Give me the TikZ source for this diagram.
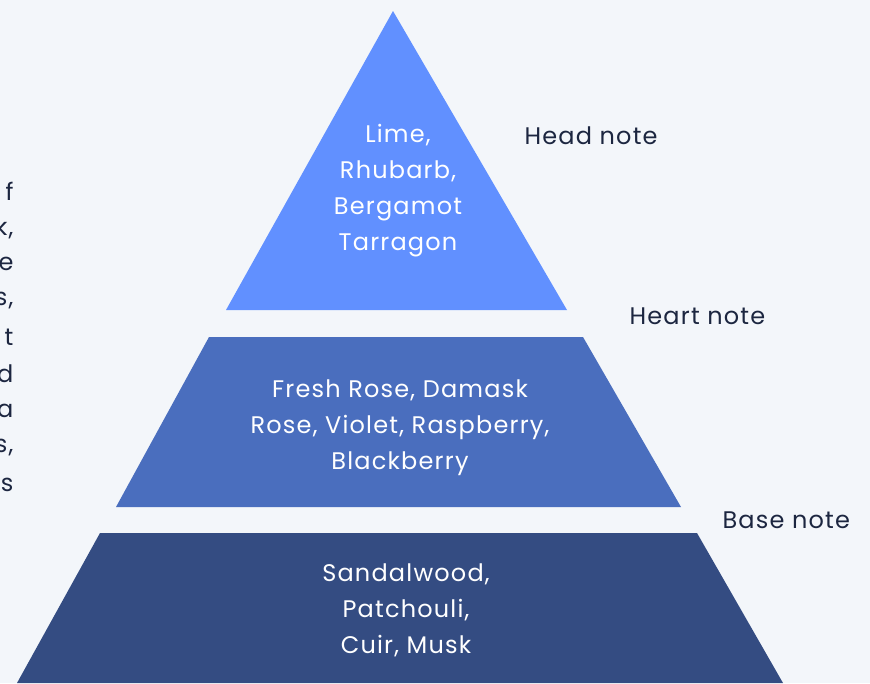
\documentclass[tikz,border=0pt]{standalone}
\usepackage{fontspec}
\setmainfont{Poppins}[LetterSpace=5]
\definecolor{bgc}{RGB}{243,246,250}
\definecolor{topc}{RGB}{97,144,255}
\definecolor{midc}{RGB}{74,110,190}
\definecolor{botc}{RGB}{52,76,130}
\definecolor{ink}{RGB}{28,38,64}
\begin{document}
\begin{tikzpicture}[x=1pt,y=-1pt,
  inner/.style={text=white,align=center,font=\fontsize{24}{36}\selectfont},
  lbl/.style={text=ink,anchor=west,font=\fontsize{24}{28}\selectfont},
  frag/.style={text=ink,anchor=east,font=\fontsize{24}{28}\selectfont}]
\useasboundingbox (0,0) rectangle (870,683);
\clip (0,0) rectangle (870,683);
\fill[bgc] (0,0) rectangle (870,683);
% layers
\fill[topc] (393,11) -- (567,310) -- (226,310) -- cycle;
\fill[midc] (209,337) -- (583,337) -- (681,507) -- (116,507) -- cycle;
\fill[botc] (100,533) -- (697,533) -- (783,683) -- (17,683) -- cycle;
% inner texts
\node[inner] (head) at (398,191) {Lime,\\Rhubarb,\\Bergamot\\Tarragon};
\node[inner] (heart) at (400,428) {Fresh Rose, Damask\\Rose, Violet, Raspberry,\\Blackberry};
\node[inner] (base) at (406,610) {Sandalwood,\\Patchouli,\\Cuir, Musk};
% labels
\node[lbl] (lhead) at (521,136) {Head note};
\node[lbl] (lheart) at (626,316) {Heart note};
\node[lbl] (lbase) at (719,520) {Base note};
% cut-off paragraph on the left
\node[frag] (f1) at (17,191) {f};
\node[frag] (f2) at (17,228) {k,};
\node[frag] (f3) at (17,264) {e};
\node[frag] (f4) at (17,301) {s,};
\node[frag] (f5) at (17,337) {t};
\node[frag] (f6) at (17,374) {d};
\node[frag] (f7) at (17,411) {a};
\node[frag] (f8) at (17,448) {s,};
\node[frag] (f9) at (17,485) {s};
\end{tikzpicture}
\end{document}
